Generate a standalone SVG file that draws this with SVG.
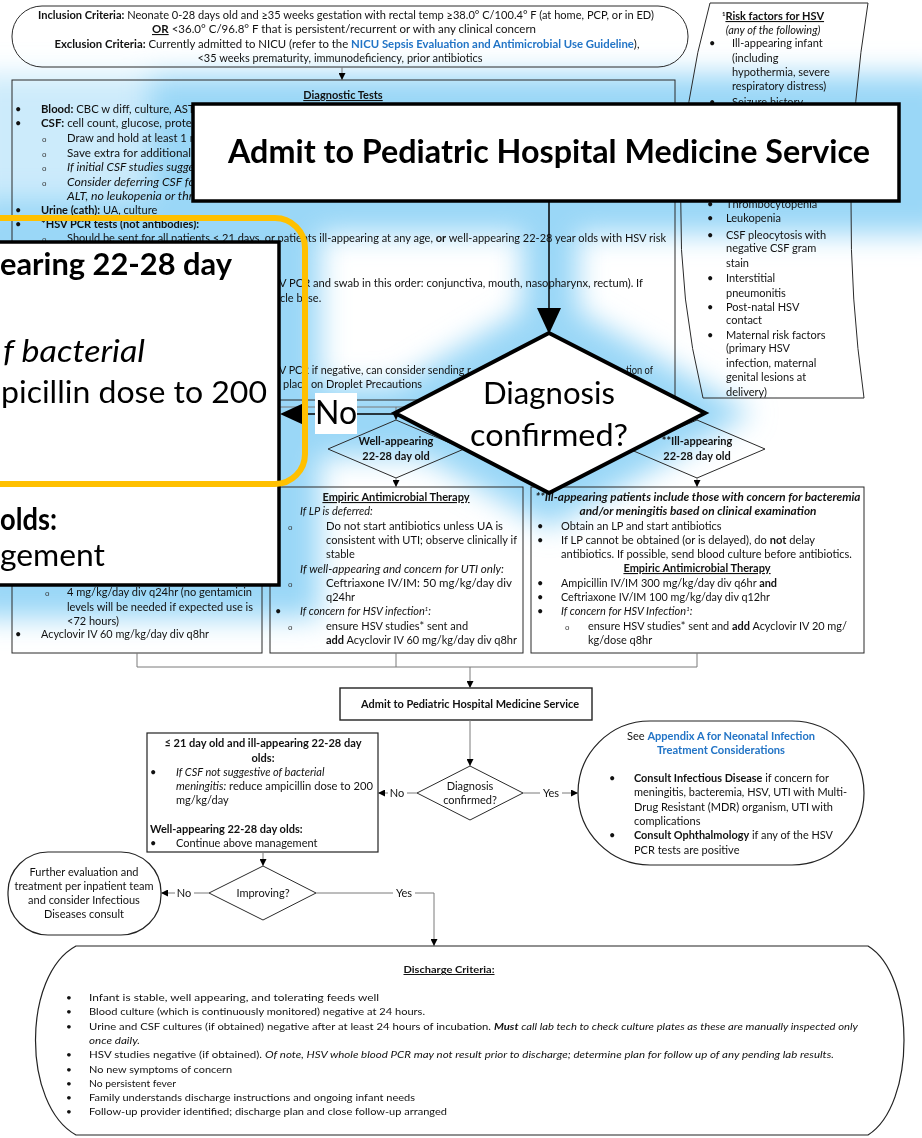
<svg xmlns="http://www.w3.org/2000/svg" width="922" height="1138" viewBox="0 0 922 1138">
<defs>
<style>
.t{font-family:Lato,'Liberation Sans',sans-serif;font-size:11px;fill:#111}
.s{font-size:10px}
.b{font-weight:bold}
.i{font-style:italic}
.c{text-anchor:middle}
.u{text-decoration:underline}
.lnk{fill:#2274c6;font-weight:bold}
.o{font-family:'Liberation Sans',sans-serif;font-size:8px;fill:#333}
.box{fill:none;stroke:#2a2a2a;stroke-width:1}
.con{fill:none;stroke:#7a7a7a;stroke-width:1}
.big{font-family:Lato,'Liberation Sans',sans-serif;fill:#000}
</style>
<marker id="ah" viewBox="0 0 10 10" refX="10" refY="5" markerWidth="7" markerHeight="7" orient="auto" markerUnits="userSpaceOnUse"><path d="M0,0L10,5L0,10z" fill="#000"/></marker>
<filter id="blur" x="-30%" y="-30%" width="160%" height="160%"><feGaussianBlur stdDeviation="14"/></filter>
</defs>
<rect x="0" y="0" width="922" height="1138" fill="#fff"/>

<g id="glow" filter="url(#blur)" fill="#9ad7f7">
<rect x="150" y="74" width="800" height="160"/>
<rect x="-30" y="74" width="190" height="160" opacity="0.5"/>
<polygon points="549,295 752,413 549,528 348,413"/>
<rect x="-30" y="200" width="350" height="418"/>
<rect x="522" y="200" width="56" height="130"/>
<rect x="262" y="385" width="160" height="72"/>
</g>

<g id="inclusion">
<rect x="12" y="6" width="676" height="61" rx="30" class="box" stroke-width="1.2"/>
<text class="t c" x="346" y="19" textLength="616" lengthAdjust="spacingAndGlyphs"><tspan class="b">Inclusion Criteria:</tspan> Neonate 0-28 days old and ≥35 weeks gestation with rectal temp ≥38.0° C/100.4° F  (at home, PCP, or in ED)</text>
<text class="t c" x="344" y="33" textLength="384" lengthAdjust="spacingAndGlyphs"><tspan class="b u">OR</tspan>  &lt;36.0° C/96.8° F that is persistent/recurrent or with any clinical concern</text>
<text class="t c" x="347" y="48" textLength="585" lengthAdjust="spacingAndGlyphs"><tspan class="b">Exclusion Criteria:</tspan> Currently admitted to NICU (refer to the <tspan class="lnk">NICU Sepsis Evaluation and Antimicrobial Use Guideline</tspan>),</text>
<text class="t c" x="340" y="62" textLength="285" lengthAdjust="spacingAndGlyphs">&lt;35 weeks prematurity, immunodeficiency, prior antibiotics</text>
</g>

<g id="risk-factors">
<path d="M710,3 L868,3 Q836,200 864,398 L703,398 Q655,200 710,3 Z" class="box"/>
<text class="t c b" x="773" y="20"><tspan font-size="6" dy="-4">1</tspan><tspan class="u" dy="4">Risk factors for HSV</tspan></text>
<text class="t c i" x="773" y="34">(any of the following)</text>
<text class="t" x="709" y="47">•</text><text class="t" x="732" y="47">Ill-appearing infant</text>
<text class="t" x="732" y="62">(including</text>
<text class="t" x="732" y="76">hypothermia, severe</text>
<text class="t" x="732" y="90">respiratory distress)</text>
<text class="t" x="709" y="106">•</text><text class="t" x="732" y="106">Seizure history</text>
<text class="t" x="707" y="208">•</text><text class="t" x="726" y="208">Thrombocytopenia</text>
<text class="t" x="707" y="222">•</text><text class="t" x="726" y="222">Leukopenia</text>
<text class="t" x="707" y="239">•</text><text class="t" x="726" y="239">CSF pleocytosis with</text>
<text class="t" x="726" y="252">negative CSF gram</text>
<text class="t" x="726" y="267">stain</text>
<text class="t" x="707" y="282">•</text><text class="t" x="726" y="282">Interstitial</text>
<text class="t" x="726" y="297">pneumonitis</text>
<text class="t" x="707" y="311">•</text><text class="t" x="726" y="311">Post-natal HSV</text>
<text class="t" x="726" y="324">contact</text>
<text class="t" x="707" y="339">•</text><text class="t" x="726" y="339">Maternal risk factors</text>
<text class="t" x="726" y="352">(primary HSV</text>
<text class="t" x="726" y="367">infection, maternal</text>
<text class="t" x="726" y="381">genital lesions at</text>
<text class="t" x="726" y="396">delivery)</text>
</g>

<g id="diagnostic-tests">
<rect x="12" y="80" width="663" height="320" class="box"/>
<text class="t b c u" x="343" y="99" fill="#1c3a58">Diagnostic Tests</text>
<text class="t" x="15" y="113">•</text><text class="t" x="41" y="113" textLength="158" lengthAdjust="spacingAndGlyphs"><tspan class="b">Blood:</tspan> CBC w diff, culture, AST/</text>
<text class="t" x="15" y="127">•</text><text class="t" x="41" y="127" textLength="160" lengthAdjust="spacingAndGlyphs"><tspan class="b">CSF:</tspan> cell count, glucose, protein</text>
<text class="o" x="42" y="142">o</text><text class="t" x="67" y="142" textLength="132" lengthAdjust="spacingAndGlyphs">Draw and hold at least 1 m</text>
<text class="o" x="42" y="157">o</text><text class="t" x="67" y="157" textLength="132" lengthAdjust="spacingAndGlyphs">Save extra for additional s</text>
<text class="o" x="42" y="171">o</text><text class="t i" x="67" y="171" textLength="132" lengthAdjust="spacingAndGlyphs">If initial CSF studies sugges</text>
<text class="o" x="42" y="186">o</text><text class="t i" x="67" y="186" textLength="132" lengthAdjust="spacingAndGlyphs">Consider deferring CSF for</text>
<text class="t i" x="67" y="200" textLength="132" lengthAdjust="spacingAndGlyphs">ALT, no leukopenia or thro</text>
<text class="t" x="15" y="214">•</text><text class="t" x="41" y="214"><tspan class="b">Urine (cath):</tspan> UA, culture</text>
<text class="t" x="15" y="228">•</text><text class="t b" x="41" y="228">*HSV PCR tests (not antibodies):</text>
<text class="o" x="42" y="242">o</text><text class="t" x="67" y="242" textLength="599" lengthAdjust="spacingAndGlyphs">Should be sent for all patients ≤ 21 days, or patients ill-appearing at any age, <tspan class="b">or</tspan> well-appearing 22-28 year olds with HSV risk</text>
<text class="t" x="279" y="287" textLength="364" lengthAdjust="spacingAndGlyphs">V PCR and swab in this order: conjunctiva, mouth, nasopharynx, rectum). If</text>
<text class="t" x="280" y="302">cle base.</text>
<text class="t" x="279" y="374" textLength="192" lengthAdjust="spacingAndGlyphs">V PCR if negative, can consider sending r</text>
<text class="t" x="626" y="374" textLength="27" lengthAdjust="spacingAndGlyphs">tion of</text>
<text class="t" x="283" y="388" textLength="139" lengthAdjust="spacingAndGlyphs">place on Droplet Precautions</text>
</g>

<g id="well-appearing">
<polygon points="396,420 464,449 396,478 328,449" class="box"/>
<text class="t b c" x="396" y="445">Well-appearing</text>
<text class="t b c" x="396" y="460">22-28 day old</text>
</g>

<g id="ill-appearing">
<polygon points="697,420 765,449 697,478 629,449" class="box"/>
<text class="t b c" x="697" y="445">**Ill-appearing</text>
<text class="t b c" x="697" y="460">22-28 day old</text>
</g>

<g id="therapy-left">
<rect x="12" y="487" width="250" height="166" class="box"/>
<text class="o" x="45" y="596">o</text><text class="t" x="67" y="596" textLength="185" lengthAdjust="spacingAndGlyphs">4 mg/kg/day div q24hr (no gentamicin</text>
<text class="t" x="67" y="611" textLength="186" lengthAdjust="spacingAndGlyphs">levels will be needed if expected use is</text>
<text class="t" x="67" y="625">&lt;72 hours)</text>
<text class="t" x="15" y="638">•</text><text class="t" x="41" y="638" textLength="168" lengthAdjust="spacingAndGlyphs">Acyclovir IV 60 mg/kg/day div q8hr</text>
</g>

<g id="therapy-well">
<rect x="270" y="487" width="253" height="166" class="box"/>
<text class="t b c u" x="396" y="501">Empiric Antimicrobial Therapy</text>
<text class="t i" x="300" y="515">If LP is deferred:</text>
<text class="o" x="288" y="530">o</text><text class="t" x="326" y="530" textLength="177" lengthAdjust="spacingAndGlyphs">Do not start antibiotics unless UA is</text>
<text class="t" x="326" y="544" textLength="191" lengthAdjust="spacingAndGlyphs">consistent with UTI; observe clinically if</text>
<text class="t" x="326" y="558">stable</text>
<text class="t i" x="300" y="573" textLength="204" lengthAdjust="spacingAndGlyphs">If well-appearing and concern for UTI only:</text>
<text class="o" x="288" y="587">o</text><text class="t" x="326" y="587" textLength="186" lengthAdjust="spacingAndGlyphs">Ceftriaxone IV/IM: 50 mg/kg/day div</text>
<text class="t" x="326" y="601">q24hr</text>
<text class="t" x="275" y="615">•</text><text class="t i" x="300" y="615">If concern for HSV infection<tspan font-size="6" dy="-4">1</tspan><tspan dy="4">:</tspan></text>
<text class="o" x="288" y="630">o</text><text class="t" x="326" y="630">ensure HSV studies* sent and</text>
<text class="t" x="326" y="644" textLength="191" lengthAdjust="spacingAndGlyphs"><tspan class="b">add</tspan> Acyclovir IV 60 mg/kg/day div q8hr</text>
</g>

<g id="therapy-ill">
<rect x="531" y="487" width="333" height="166" class="box"/>
<text class="t b i c" x="698" y="501" textLength="325" lengthAdjust="spacingAndGlyphs">**Ill-appearing patients include those with concern for bacteremia</text>
<text class="t b i c" x="698" y="515" textLength="237" lengthAdjust="spacingAndGlyphs">and/or meningitis based on clinical examination</text>
<text class="t" x="537" y="530">•</text><text class="t" x="561" y="530">Obtain an LP and start antibiotics</text>
<text class="t" x="537" y="544">•</text><text class="t" x="561" y="544" textLength="254" lengthAdjust="spacingAndGlyphs">If LP cannot be obtained (or is delayed), do <tspan class="b">not</tspan> delay</text>
<text class="t" x="561" y="558" textLength="291" lengthAdjust="spacingAndGlyphs">antibiotics. If possible, send blood culture before antibiotics.</text>
<text class="t b c u" x="697" y="572">Empiric Antimicrobial Therapy</text>
<text class="t" x="537" y="587">•</text><text class="t" x="561" y="587" textLength="216" lengthAdjust="spacingAndGlyphs">Ampicillin IV/IM 300 mg/kg/day div q6hr <tspan class="b">and</tspan></text>
<text class="t" x="537" y="601">•</text><text class="t" x="561" y="601" textLength="209" lengthAdjust="spacingAndGlyphs">Ceftriaxone IV/IM 100 mg/kg/day div q12hr</text>
<text class="t" x="537" y="615">•</text><text class="t i" x="561" y="615">If concern for HSV Infection<tspan font-size="6" dy="-4">1</tspan><tspan dy="4">:</tspan></text>
<text class="o" x="565" y="630">o</text><text class="t" x="588" y="630" textLength="259" lengthAdjust="spacingAndGlyphs">ensure HSV studies* sent and <tspan class="b">add</tspan> Acyclovir IV 20 mg/</text>
<text class="t" x="588" y="644">kg/dose q8hr</text>
</g>

<g id="admit">
<rect x="340" y="688" width="252" height="32" fill="none" stroke="#222" stroke-width="1.4"/>
<text class="t b c" x="470" y="708" textLength="218" lengthAdjust="spacingAndGlyphs">Admit to Pediatric Hospital Medicine Service</text>
</g>

<g id="diagnosis-confirmed">
<polygon points="470,766 523,793 470,820 417,793" class="box"/>
<text class="t c" x="470" y="790">Diagnosis</text>
<text class="t c" x="470" y="804">confirmed?</text>
</g>

<g id="not-confirmed">
<rect x="147" y="733" width="231" height="119" fill="none" stroke="#222" stroke-width="1.2"/>
<text class="t b c" x="263" y="747" textLength="197" lengthAdjust="spacingAndGlyphs">≤ 21 day old and ill-appearing 22-28 day</text>
<text class="t b c" x="263" y="762">olds:</text>
<text class="t" x="150" y="776">•</text><text class="t i" x="176" y="776">If CSF not suggestive of bacterial</text>
<text class="t" x="176" y="790" textLength="197" lengthAdjust="spacingAndGlyphs"><tspan class="i">meningitis:</tspan> reduce ampicillin dose to 200</text>
<text class="t" x="176" y="804">mg/kg/day</text>
<text class="t b" x="150" y="833">Well-appearing 22-28 day olds:</text>
<text class="t" x="150" y="847">•</text><text class="t" x="176" y="847">Continue above management</text>
</g>

<g id="confirmed">
<rect x="578" y="721" width="286" height="144" rx="72" ry="72" fill="none" stroke="#222" stroke-width="1.2"/>
<text class="t c" x="721" y="740" textLength="188" lengthAdjust="spacingAndGlyphs">See <tspan class="lnk">Appendix A for Neonatal Infection</tspan></text>
<text class="t c lnk" x="721" y="754" textLength="128" lengthAdjust="spacingAndGlyphs">Treatment Considerations</text>
<text class="t" x="609" y="782">•</text><text class="t" x="634" y="782" textLength="195" lengthAdjust="spacingAndGlyphs"><tspan class="b">Consult Infectious Disease</tspan> if concern for</text>
<text class="t" x="634" y="796" textLength="213" lengthAdjust="spacingAndGlyphs">meningitis, bacteremia, HSV, UTI with Multi-</text>
<text class="t" x="634" y="811" textLength="199" lengthAdjust="spacingAndGlyphs">Drug Resistant (MDR) organism,  UTI with</text>
<text class="t" x="634" y="825">complications</text>
<text class="t" x="609" y="839">•</text><text class="t" x="634" y="839" textLength="199" lengthAdjust="spacingAndGlyphs"><tspan class="b">Consult Ophthalmology</tspan> if any of the HSV</text>
<text class="t" x="634" y="854">PCR tests are positive</text>
</g>

<g id="improving">
<polygon points="263,866 316,893 263,920 209,893" class="box"/>
<text class="t c" x="263" y="897">Improving?</text>
</g>

<g id="further-evaluation">
<rect x="8" y="852" width="153" height="83" rx="40" ry="40" fill="none" stroke="#222" stroke-width="1.2"/>
<text class="t c" x="84" y="876">Further evaluation and</text>
<text class="t c" x="84" y="890">treatment per inpatient team</text>
<text class="t c" x="84" y="904">and consider Infectious</text>
<text class="t c" x="84" y="918">Diseases consult</text>
</g>

<g id="discharge">
<path d="M76,946 L868,946 C916,975 916,1105 868,1135 L76,1135 C22,1105 22,975 76,946 Z" fill="none" stroke="#222" stroke-width="1.2"/>
<text class="t s b c u" x="449" y="973" textLength="91" lengthAdjust="spacingAndGlyphs">Discharge Criteria:</text>
<text class="t s" x="66" y="1001">•</text><text class="t s" x="89" y="1001" textLength="290" lengthAdjust="spacingAndGlyphs">Infant is stable, well appearing, and tolerating feeds well</text>
<text class="t s" x="66" y="1015">•</text><text class="t s" x="89" y="1015" textLength="336" lengthAdjust="spacingAndGlyphs">Blood culture (which is continuously monitored) negative at 24 hours.</text>
<text class="t s" x="66" y="1030">•</text><text class="t s" x="89" y="1030" textLength="769" lengthAdjust="spacingAndGlyphs">Urine and CSF cultures (if obtained) negative after at least 24 hours of incubation. <tspan class="b i">Must</tspan><tspan class="i"> call lab tech to check culture plates as these are manually inspected only</tspan></text>
<text class="t s i" x="89" y="1044" textLength="51" lengthAdjust="spacingAndGlyphs">once daily.</text>
<text class="t s" x="66" y="1058">•</text><text class="t s" x="89" y="1058" textLength="745" lengthAdjust="spacingAndGlyphs">HSV studies negative (if obtained). <tspan class="i">Of note, HSV whole blood PCR may not result prior to discharge; determine plan for follow up of any pending lab results.</tspan></text>
<text class="t s" x="66" y="1073">•</text><text class="t s" x="89" y="1073" textLength="143" lengthAdjust="spacingAndGlyphs">No new symptoms of concern</text>
<text class="t s" x="66" y="1087">•</text><text class="t s" x="89" y="1087" textLength="87" lengthAdjust="spacingAndGlyphs">No persistent fever</text>
<text class="t s" x="66" y="1101">•</text><text class="t s" x="89" y="1101" textLength="326" lengthAdjust="spacingAndGlyphs">Family understands discharge instructions and ongoing infant needs</text>
<text class="t s" x="66" y="1115">•</text><text class="t s" x="89" y="1115" textLength="358" lengthAdjust="spacingAndGlyphs">Follow-up provider identified; discharge plan and close follow-up arranged</text>
</g>

<g id="connectors">
<line x1="342" y1="67" x2="342" y2="80" class="con" marker-end="url(#ah)"/>
<path d="M342,400 V407 M137,407 H697" class="con"/>
<line x1="396" y1="407" x2="396" y2="420" class="con" marker-end="url(#ah)"/>
<line x1="697" y1="407" x2="697" y2="420" class="con" marker-end="url(#ah)"/>
<line x1="396" y1="478" x2="396" y2="487" class="con" marker-end="url(#ah)"/>
<line x1="697" y1="478" x2="697" y2="487" class="con" marker-end="url(#ah)"/>
<path d="M137,653 V667 H697 V653 M396,653 V667" class="con"/>
<line x1="470" y1="667" x2="470" y2="688" class="con" marker-end="url(#ah)"/>
<line x1="470" y1="720" x2="470" y2="766" class="con" marker-end="url(#ah)"/>
<line x1="417" y1="793" x2="378" y2="793" class="con" marker-end="url(#ah)"/>
<rect x="388" y="786" width="19" height="13" fill="#fff"/>
<text class="t c" x="397" y="797">No</text>
<line x1="523" y1="793" x2="578" y2="793" class="con" marker-end="url(#ah)"/>
<rect x="540" y="786" width="22" height="13" fill="#fff"/>
<text class="t c" x="551" y="797">Yes</text>
<line x1="263" y1="852" x2="263" y2="866" class="con" marker-end="url(#ah)"/>
<line x1="209" y1="893" x2="161" y2="893" class="con" marker-end="url(#ah)"/>
<rect x="175" y="886" width="19" height="13" fill="#fff"/>
<text class="t c" x="184" y="897">No</text>
<path d="M316,893 H434 V946" class="con" marker-end="url(#ah)"/>
<rect x="393" y="886" width="22" height="13" fill="#fff"/>
<text class="t c" x="404" y="897">Yes</text>
</g>

<g id="zoom-admit">
<rect x="193" y="104" width="706" height="97" fill="#fff" stroke="#000" stroke-width="3.5"/>
<text class="big c" x="549" y="163" font-size="32" font-weight="bold" textLength="642" lengthAdjust="spacingAndGlyphs">Admit to Pediatric Hospital Medicine Service</text>
</g>

<g id="zoom-connector">
<line x1="549" y1="201" x2="549" y2="310" stroke="#000" stroke-width="1.5"/>
<polygon points="537,308 561,308 549,334" fill="#000"/>
<line x1="303" y1="414" x2="395" y2="414" stroke="#000" stroke-width="1.5"/>
</g>

<g id="zoom-diagnosis">
<polygon points="549,333 705,413 549,493 395,413" fill="#fff" stroke="#000" stroke-width="4"/>
<text class="big c" x="549" y="404" font-size="30" textLength="132" lengthAdjust="spacingAndGlyphs">Diagnosis</text>
<text class="big c" x="549" y="446" font-size="30" textLength="158" lengthAdjust="spacingAndGlyphs">confirmed?</text>
</g>

<g id="zoom-callout">
<rect x="-5" y="242" width="284" height="343" fill="#fff" stroke="#000" stroke-width="3.5"/>
<text class="big" x="0" y="275" font-size="31" font-weight="bold" textLength="232" lengthAdjust="spacingAndGlyphs">earing 22-28 day</text>
<text class="big" x="3" y="362" font-size="31" font-style="italic" textLength="142" lengthAdjust="spacingAndGlyphs">f bacterial</text>
<text class="big" x="1" y="403" font-size="31" textLength="266" lengthAdjust="spacingAndGlyphs">picillin dose to 200</text>
<text class="big" x="0" y="530" font-size="31" font-weight="bold" textLength="57" lengthAdjust="spacingAndGlyphs">olds:</text>
<text class="big" x="0" y="566" font-size="31" textLength="105" lengthAdjust="spacingAndGlyphs">gement</text>
</g>

<g id="zoom-no">
<polygon points="280,414 304,403 304,425" fill="#000"/>
<rect x="315" y="393" width="42" height="41" fill="#fff"/>
<text class="big c" x="336" y="424" font-size="32">No</text>
</g>

<g id="zoom-highlight">
<rect x="-40" y="218" width="345" height="266" rx="30" ry="30" fill="none" stroke="#ffc000" stroke-width="6"/>
</g>
</svg>
